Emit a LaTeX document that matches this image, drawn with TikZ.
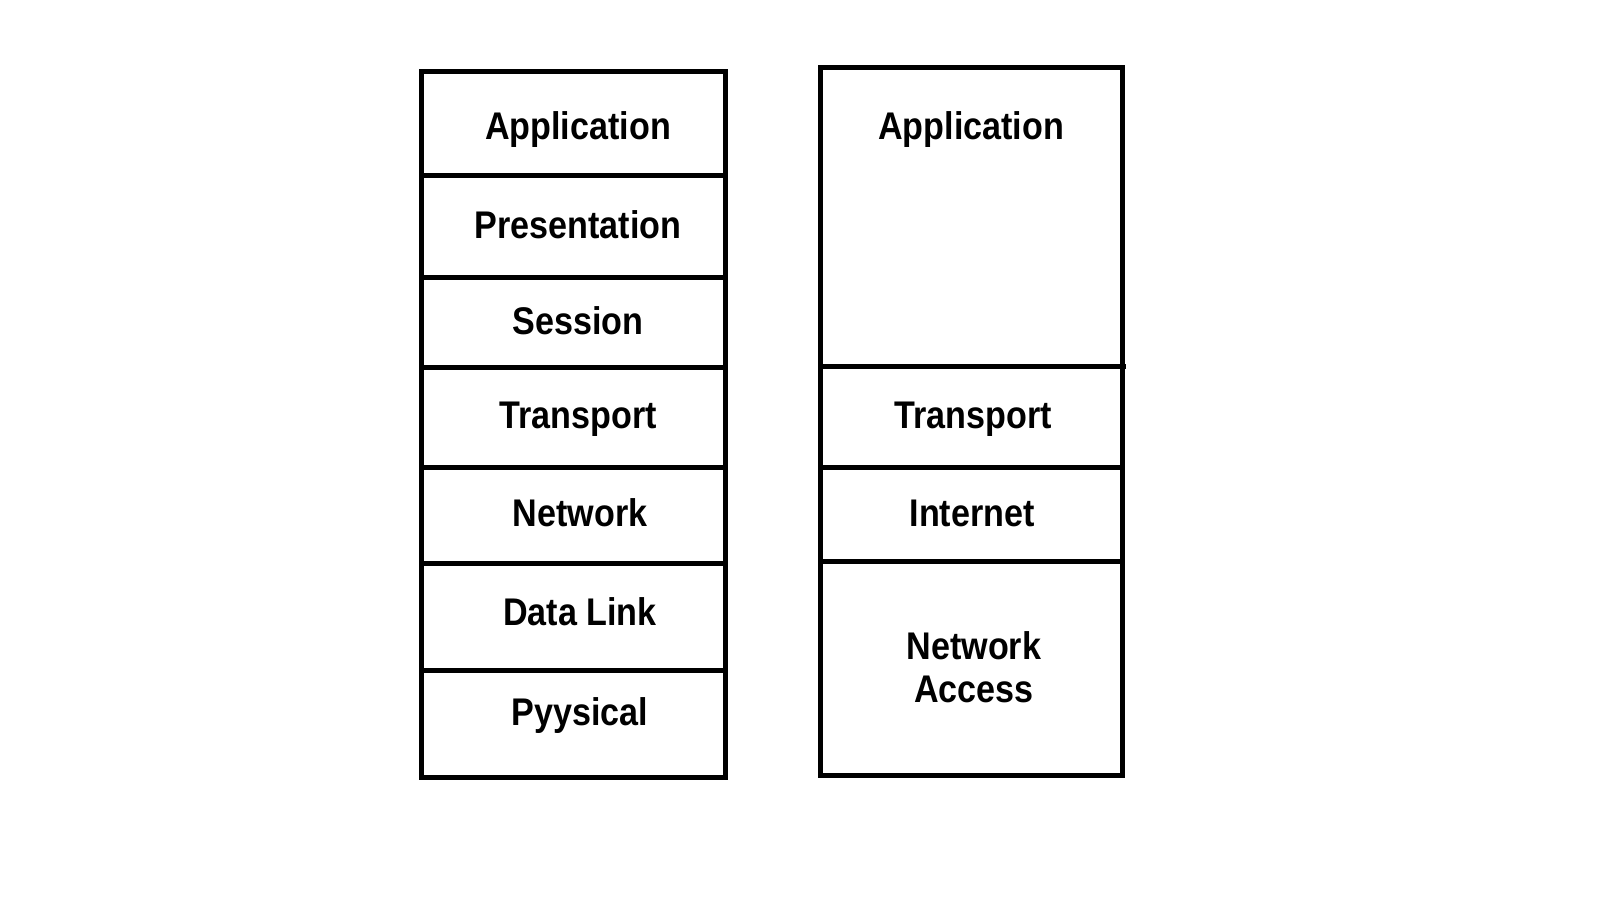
\documentclass[tikz,border=0pt]{standalone}
\usepackage{fontspec}
\setmainfont{Liberation Sans}[FakeStretch=0.885]
\usepackage{tikz}

\tikzset{
  layer/.style={line width=1.35pt},
  lbl/.style={font=\fontsize{10.97}{12.35}\selectfont\bfseries, anchor=base, inner sep=0pt, align=center}
}

\begin{document}
\begin{tikzpicture}

\useasboundingbox (0, 0) rectangle (16, 9);

\draw[layer] (4.217, 1.225) rectangle (7.253, 8.283);
\draw[layer] (4.217, 7.245) -- (7.253, 7.245);
\draw[layer] (4.217, 6.223) -- (7.253, 6.223);
\draw[layer] (4.217, 5.325) -- (7.253, 5.325);
\draw[layer] (4.217, 4.325) -- (7.253, 4.325);
\draw[layer] (4.217, 3.365) -- (7.253, 3.365);
\draw[layer] (4.217, 2.292) -- (7.253, 2.292);

\node[lbl] (appL) at (5.78, 7.607) {Application};
\node[lbl] (presL) at (5.78, 6.617) {Presentation};
\node[lbl] (sessL) at (5.78, 5.657) {Session};
\node[lbl] (transL) at (5.78, 4.717) {Transport};
\node[lbl] (netL) at (5.80, 3.733) {Network};
\node[lbl] (linkL) at (5.80, 2.750) {Data Link};
\node[lbl] (physL) at (5.80, 1.743) {Pyysical};

\draw[layer] (8.208, 1.248) rectangle (11.225, 8.325);
\draw[layer] (8.208, 5.332) -- (11.26, 5.332);
\draw[layer] (8.208, 4.325) -- (11.225, 4.325);
\draw[layer] (8.208, 3.382) -- (11.225, 3.382);

\node[lbl] (appR) at (9.712, 7.607) {Application};
\node[lbl] (transR) at (9.733, 4.717) {Transport};
\node[lbl] (inetR) at (9.722, 3.740) {Internet};
\node[lbl] (accR) at (9.738, 1.973) {Network\\Access};

\end{tikzpicture}
\end{document}
